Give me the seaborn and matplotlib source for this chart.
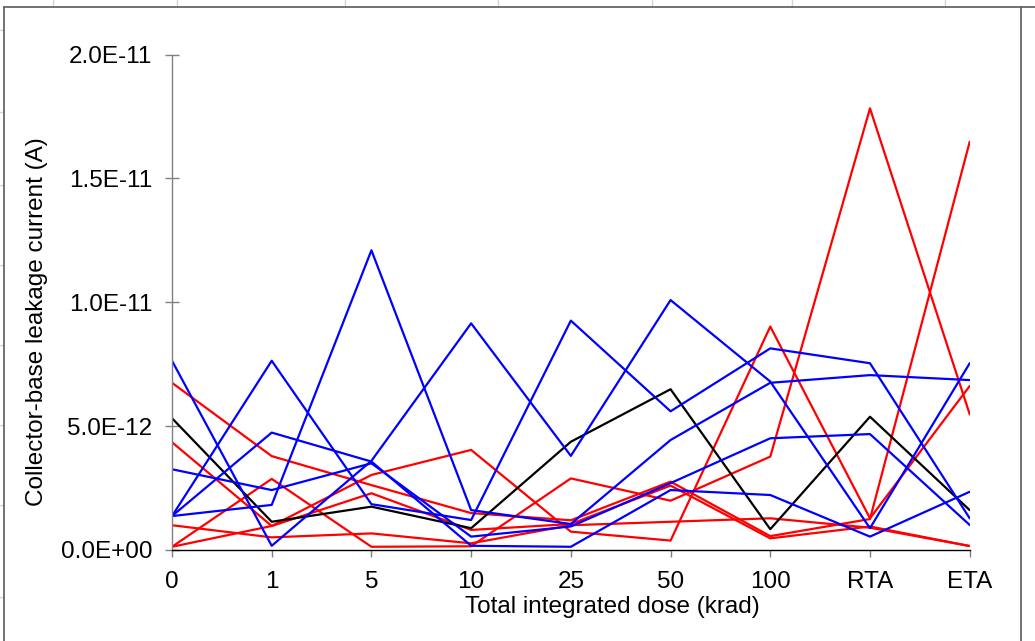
import numpy as np
import pandas as pd
import seaborn as sns
import matplotlib
matplotlib.use("Agg")
import matplotlib.pyplot as plt
from matplotlib.lines import Line2D

sns.set_style("white")
plt.rcParams["font.family"] = ["Liberation Sans", "DejaVu Sans"]
plt.rcParams["text.color"] = "black"
plt.rcParams["axes.labelcolor"] = "black"
plt.rcParams["xtick.color"] = "black"
plt.rcParams["ytick.color"] = "black"

# ---- data (values in units of 1E-12 A) ----
doses = ["0", "1", "5", "10", "25", "50", "100", "RTA", "ETA"]

red_a = [6.75, 3.79, 2.62, 1.49, 1.20, 2.76, 0.56, 1.25, 16.48]
red_b = [0.13, 0.97, 3.03, 4.04, 0.74, 0.38, 9.02, 1.28, 6.62]
red_c = [0.13, 2.87, 0.13, 0.15, 2.89, 1.99, 3.77, 17.83, 5.48]
red_d = [4.35, 0.97, 2.29, 0.81, 1.05, 2.60, 0.47, 0.95, 0.16]
red_e = [1.00, 0.51, 0.67, 0.27, 1.00, 1.14, 1.28, 0.90, 0.16]

black_a = [5.32, 1.14, 1.75, 0.88, 4.37, 6.49, 0.84, 5.38, 1.61]

blue_a = [7.64, 0.17, 3.60, 9.15, 3.80, 10.09, 6.80, 0.88, 7.54]
blue_b = [3.26, 2.42, 3.50, 0.54, 0.95, 2.70, 4.51, 4.68, 1.01]
blue_c = [1.37, 1.82, 12.10, 1.61, 1.05, 4.44, 6.75, 7.06, 6.86]
blue_d = [1.37, 7.64, 1.85, 1.21, 9.26, 5.60, 8.14, 7.54, 1.28]
blue_e = [1.37, 4.74, 3.57, 0.17, 0.13, 2.42, 2.22, 0.54, 2.35]

series = {
    "R1": (red_a, "#FF0000"), "R2": (red_b, "#FF0000"), "R3": (red_c, "#FF0000"),
    "R4": (red_d, "#FF0000"), "R5": (red_e, "#FF0000"),
    "K1": (black_a, "#000000"),
    "B1": (blue_a, "#0000FF"), "B2": (blue_b, "#0000FF"), "B3": (blue_c, "#0000FF"),
    "B4": (blue_d, "#0000FF"), "B5": (blue_e, "#0000FF"),
}

rows = []
for name, (vals, col) in series.items():
    for i, v in enumerate(vals):
        rows.append({"series": name, "pos": i, "value": v * 1e-12})
df = pd.DataFrame(rows)
palette = {k: c for k, (v, c) in series.items()}

W, H = 1035, 641
fig = plt.figure(figsize=(W / 100, H / 100), dpi=100)
fig.patch.set_facecolor("white")

# spreadsheet background lines and chart frame
for gx in [53, 177, 345, 498, 652, 792, 945]:
    fig.add_artist(Line2D([gx / W, gx / W], [1, 1 - 7 / H], color="#d4d4d4", lw=1))
for gy in [30, 112, 185, 265, 345, 425, 505, 597]:
    fig.add_artist(Line2D([0, 3 / W], [1 - gy / H, 1 - gy / H], color="#d4d4d4", lw=1))
fig.add_artist(Line2D([4 / W, 4 / W], [0, 1 - 7 / H], color="#5a5a5a", lw=1.2))
fig.add_artist(Line2D([4 / W, 1], [1 - 7 / H, 1 - 7 / H], color="#5a5a5a", lw=1.2))
fig.add_artist(Line2D([1021 / W, 1021 / W], [0, 1 - 7 / H], color="#5a5a5a", lw=1.2))

ax = fig.add_axes([172 / W, 1 - 550 / H, (969.7 - 172) / W, (550 - 54.6) / H])
sns.lineplot(data=df, x="pos", y="value", hue="series", palette=palette,
             hue_order=list(series.keys()), legend=False, sort=False,
             linewidth=1.6, ax=ax, estimator=None)

ax.set_xlim(0, 8)
ax.set_ylim(0, 2e-11)
ax.set_xticks(range(len(doses)))
ax.set_xticklabels(doses)
yt = [0, 5e-12, 1e-11, 1.5e-11, 2e-11]
ax.set_yticks(yt)
ax.set_yticklabels([f"{v:.1E}" for v in yt])

for s in ["top", "right"]:
    ax.spines[s].set_visible(False)
ax.spines["left"].set_color("#808080")
ax.spines["bottom"].set_color("#000000")
ax.spines["left"].set_linewidth(1.0)
ax.spines["bottom"].set_linewidth(1.0)

ax.tick_params(axis="y", direction="inout", length=10, width=1, color="#808080",
               labelcolor="black", labelsize=17.5, pad=9, left=True)
ax.tick_params(axis="x", direction="out", length=5, width=1, color="#808080",
               labelcolor="black", labelsize=17.5, pad=10, bottom=True)

ax.set_xlabel("Total integrated dose (krad)", fontsize=17.5, color="black")
ax.xaxis.set_label_coords((612 - 172) / 797.7, -0.092)
ax.set_ylabel("Collector-base leakage current (A)", fontsize=17.5, color="black")
ax.yaxis.set_label_coords(-0.1554, 0.46)
ax.grid(False)

fig.savefig("out.png", dpi=100, facecolor="white")
